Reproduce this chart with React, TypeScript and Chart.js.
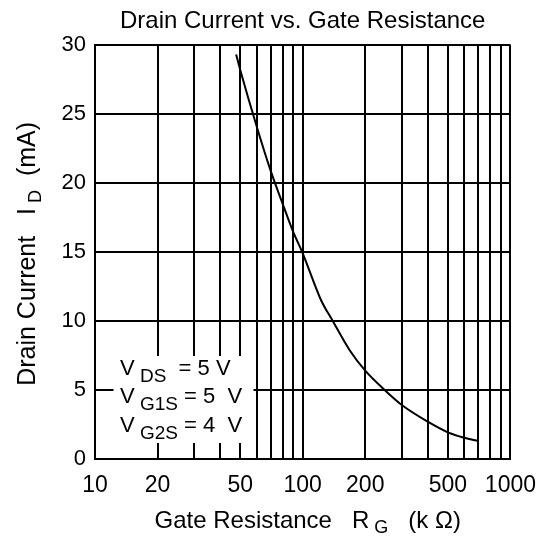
import React, { useEffect, useRef } from 'react';
import { Chart, registerables } from 'chart.js';

Chart.register(...registerables);

// ---- data ----
const gateResistance = [47.8, 50, 60, 70, 80, 90, 100, 122.6, 139.5, 168, 200, 248, 300, 400, 500, 600, 700];
const drainCurrent = [29.3, 28.2, 24.1, 20.9, 18.5, 16.45, 14.9, 11.5, 10, 7.9, 6.4, 5, 3.91, 2.7, 1.93, 1.54, 1.3];

const xGridValues = [10, 20, 30, 40, 50, 60, 70, 80, 90, 100, 200, 300, 400, 500, 600, 700, 800, 900, 1000];
const xTickLabels = [10, 20, 50, 100, 200, 500, 1000];
const yMin = 0;
const yMax = 30;
const yStep = 5;

const chartTitle = 'Drain Current vs. Gate Resistance';
const conditionMain = ['V', 'V', 'V'];
const conditionSub = ['DS', 'G1S', 'G2S'];
const conditionRest = ['  = 5 V', ' = 5  V', ' = 4  V'];
const xTitleParts = ['Gate Resistance   R', 'G', '   (k Ω)'];
const yTitleParts = ['Drain Current   I', 'D', '  (mA)'];

const FAMILY = '"Liberation Sans", Arial, Helvetica, sans-serif';

type Seg = { text: string; sub: boolean };

function segWidth(ctx: CanvasRenderingContext2D, segs: Seg[], main: number, sub: number) {
  let w = 0;
  for (const s of segs) {
    ctx.font = `${s.sub ? sub : main}px ${FAMILY}`;
    w += ctx.measureText(s.text).width;
  }
  return w;
}

function drawSegs(ctx: CanvasRenderingContext2D, segs: Seg[], x: number, y: number, main: number, sub: number, shift: number) {
  let cx = x;
  ctx.textAlign = 'left';
  ctx.textBaseline = 'alphabetic';
  for (const s of segs) {
    ctx.font = `${s.sub ? sub : main}px ${FAMILY}`;
    ctx.fillText(s.text, cx, s.sub ? y + shift : y);
    cx += ctx.measureText(s.text).width;
  }
}

const annotationPlugin = {
  id: 'annotations',
  afterDraw(chart: any) {
    const { ctx, chartArea: a } = chart;
    ctx.save();

    // condition box (white background over the grid)
    ctx.fillStyle = '#fff';
    ctx.fillRect(a.left + 18.5, a.bottom - 103, 140, 87);
    ctx.fillStyle = '#000';
    const rowBase = [a.bottom - 84, a.bottom - 55.7, a.bottom - 27.3];
    for (let i = 0; i < conditionMain.length; i++) {
      drawSegs(
        ctx,
        [
          { text: conditionMain[i], sub: false },
          { text: ' ', sub: true },
          { text: conditionSub[i], sub: true },
          { text: conditionRest[i], sub: false },
        ],
        a.left + 25,
        rowBase[i],
        22,
        19,
        7
      );
    }

    // x axis title
    const xSegs: Seg[] = [
      { text: xTitleParts[0], sub: false },
      { text: ' ' + xTitleParts[1], sub: true },
      { text: xTitleParts[2], sub: false },
    ];
    const xw = segWidth(ctx, xSegs, 24, 18);
    const xc = (a.left + a.right) / 2 + 5;
    drawSegs(ctx, xSegs, xc - xw / 2, a.bottom + 69, 24, 18, 5);

    // y axis title
    const ySegs: Seg[] = [
      { text: yTitleParts[0], sub: false },
      { text: ' ' + yTitleParts[1], sub: true },
      { text: yTitleParts[2], sub: false },
    ];
    const yw = segWidth(ctx, ySegs, 25, 18);
    ctx.translate(35, (a.top + a.bottom) / 2 + 2);
    ctx.rotate(-Math.PI / 2);
    drawSegs(ctx, ySegs, -yw / 2, 0, 25, 18, 6);

    ctx.restore();
  },
};

export default function App() {
  const canvasRef = useRef<HTMLCanvasElement | null>(null);

  useEffect(() => {
    if (!canvasRef.current) return;
    const chart = new Chart(canvasRef.current, {
      type: 'scatter',
      data: {
        datasets: [
          {
            data: gateResistance.map((x, i) => ({ x, y: drainCurrent[i] })),
            showLine: true,
            borderColor: '#000',
            borderWidth: 2,
            pointRadius: 0,
            cubicInterpolationMode: 'monotone',
            fill: false,
          } as any,
        ],
      },
      options: {
        animation: false,
        responsive: false,
        layout: { padding: { top: 0, right: 38, bottom: 0, left: 0 } },
        plugins: {
          legend: { display: false },
          tooltip: { enabled: false },
          title: {
            display: true,
            text: chartTitle,
            fullSize: false,
            color: '#000',
            font: { size: 24, family: FAMILY, weight: 'normal' },
            padding: { top: 7, bottom: 9 },
          },
        },
        scales: {
          x: {
            type: 'logarithmic',
            min: 10,
            max: 1000,
            afterBuildTicks: (s: any) => {
              s.ticks = xGridValues.map((v) => ({ value: v }));
            },
            afterFit: (s: any) => {
              s.height = 80;
            },
            ticks: {
              autoSkip: false,
              maxRotation: 0,
              minRotation: 0,
              color: '#000',
              padding: 13,
              font: { size: 23, family: FAMILY },
              callback: (v: any) => (xTickLabels.includes(Number(v)) ? String(v) : ''),
            },
            grid: { color: '#000', lineWidth: 2, drawTicks: false },
            border: { display: true, color: '#000', width: 2 },
          },
          y: {
            type: 'linear',
            min: yMin,
            max: yMax,
            afterFit: (s: any) => {
              s.width = 95;
            },
            ticks: {
              stepSize: yStep,
              color: '#000',
              padding: 9,
              font: { size: 22, family: FAMILY },
            },
            grid: { color: '#000', lineWidth: 2, drawTicks: false },
            border: { display: true, color: '#000', width: 2 },
          },
        },
      } as any,
      plugins: [annotationPlugin],
    });
    return () => chart.destroy();
  }, []);

  return (
    <div style={{ position: 'fixed', left: 0, top: 0, width: 549, height: 539, background: '#fff' }}>
      <canvas ref={canvasRef} width={549} height={539} style={{ display: 'block' }} />
    </div>
  );
}
